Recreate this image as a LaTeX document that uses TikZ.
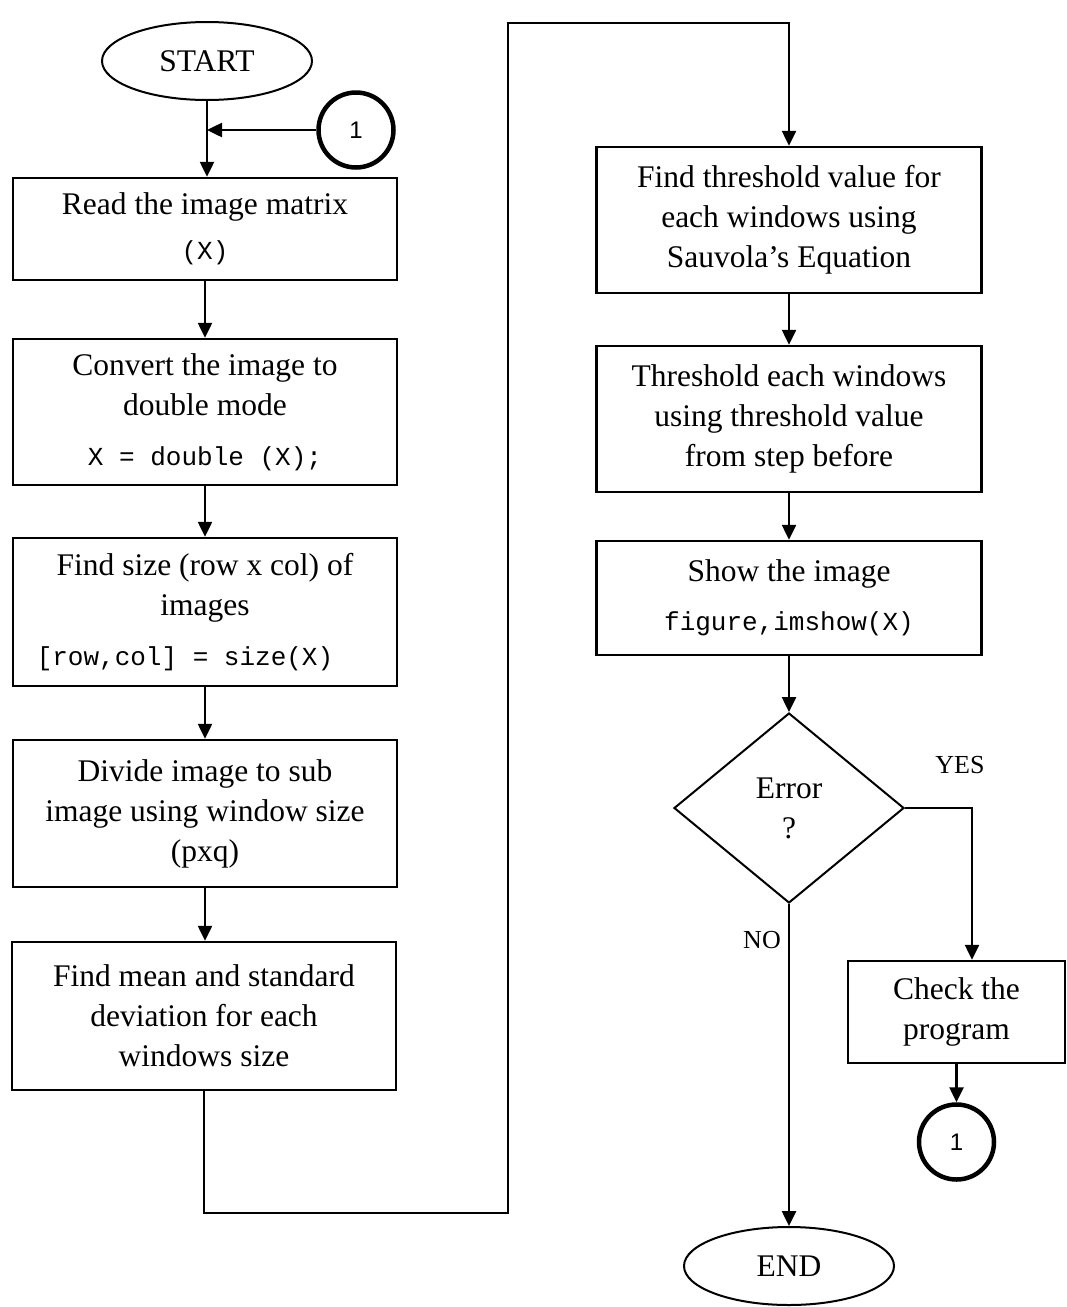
\documentclass[tikz,border=0pt]{standalone}
\usepackage{fontspec}
\setmainfont{Liberation Serif}
\setsansfont{Liberation Sans}
\newfontfamily\mymonofam{Liberation Mono}
\newcommand\mymono{\mymonofam\fontsize{26}{30}\selectfont}
\usetikzlibrary{shapes.geometric,arrows.meta}
\begin{document}
\begin{tikzpicture}[x=1pt,y=-1pt,
  box/.style={draw, line width=2.5pt, rectangle, minimum width=384pt, inner sep=0pt, align=center, font=\fontsize{31.5}{40}\selectfont},
  term/.style={draw, ellipse, line width=2pt, minimum width=210pt, minimum height=78pt, inner sep=0pt, font=\fontsize{31.5}{40}\selectfont},
  conn/.style={draw, circle, line width=4.5pt, minimum size=75pt, inner sep=0pt, font=\sffamily\fontsize{24}{28}\selectfont},
  dec/.style={draw, diamond, line width=2pt, minimum width=230pt, minimum height=190pt, inner sep=0pt, align=center, font=\fontsize{31.5}{40}\selectfont},
  flow/.style={line width=2.5pt, -{Triangle[length=15pt,width=14pt]}},
  lbl/.style={inner sep=0pt, font=\fontsize{26}{30}\selectfont}]
\useasboundingbox (0,0) rectangle (1067,1307);

% left column
\node[term] (start) at (207,61) {START};
\node[conn] (c1) at (356,130) {1};
\node[box, minimum height=102pt] (b1) at (205,229) {Read the image matrix\\[5pt]{\mymono (X)}};
\node[box, minimum height=146pt] (b2) at (205,412) {Convert the image to\\double mode\\[10pt]{\mymono X = double (X);}};
\node[box, minimum height=148pt] (b3) at (205,612) {Find size (row x col) of\\images\\[10pt]{\mymono [row,col] = size(X)\hspace*{40pt}}};
\node[box, minimum height=147pt] (b4) at (205,813.5) {Divide image to sub\\image using window size\\(pxq)};
\node[box, minimum height=148pt] (b5) at (204,1016) {Find mean and standard\\deviation for each\\windows size};

% right column
\node[box, minimum width=385pt, minimum height=146pt] (b6) at (789,220) {Find threshold value for\\each windows using\\Sauvola’s Equation};
\node[box, minimum width=385pt, minimum height=146pt] (b7) at (789,419) {Threshold each windows\\using threshold value\\from step before};
\node[box, minimum width=385pt, minimum height=114pt] (b8) at (789,598) {Show the image\\[9pt]{\mymono figure,imshow(X)}};
\node[dec] (d) at (789,808) {Error\\?};
\node[box, minimum width=217pt, minimum height=102pt] (b9) at (956.5,1012) {Check the\\program};
\node[conn] (c2) at (956.5,1142) {1};
\node[term] (end) at (789,1266) {END};

\node[lbl] (yes) at (960,765) {YES};
\node[lbl] (no) at (762,940) {NO};

\coordinate (lp1) at (508,1213);
\coordinate (lp2) at (508,23);
\coordinate (yc) at (972,808);

% connectors
\draw[flow] (start.south) -- (start.south |- b1.north);
\draw[flow] (c1.west) -- (c1.west -| start.south);
\draw[flow] (b1.south) -- (b2.north);
\draw[flow] (b2.south) -- (b3.north);
\draw[flow] (b3.south) -- (b4.north);
\draw[flow] (b4.south) -- (b4.south |- b5.north);
\draw[flow] (b5.south) |- (lp1) -- (lp2) -| (b6.north);
\draw[flow] (b6.south) -- (b7.north);
\draw[flow] (b7.south) -- (b8.north);
\draw[flow] (b8.south) -- (d.north);
\draw[flow] (d.south) -- (end.north);
\draw[flow] (d.east) -- (yc) -- (yc |- b9.north);
\draw[flow] (b9.south) -- (c2.north);
\end{tikzpicture}
\end{document}
